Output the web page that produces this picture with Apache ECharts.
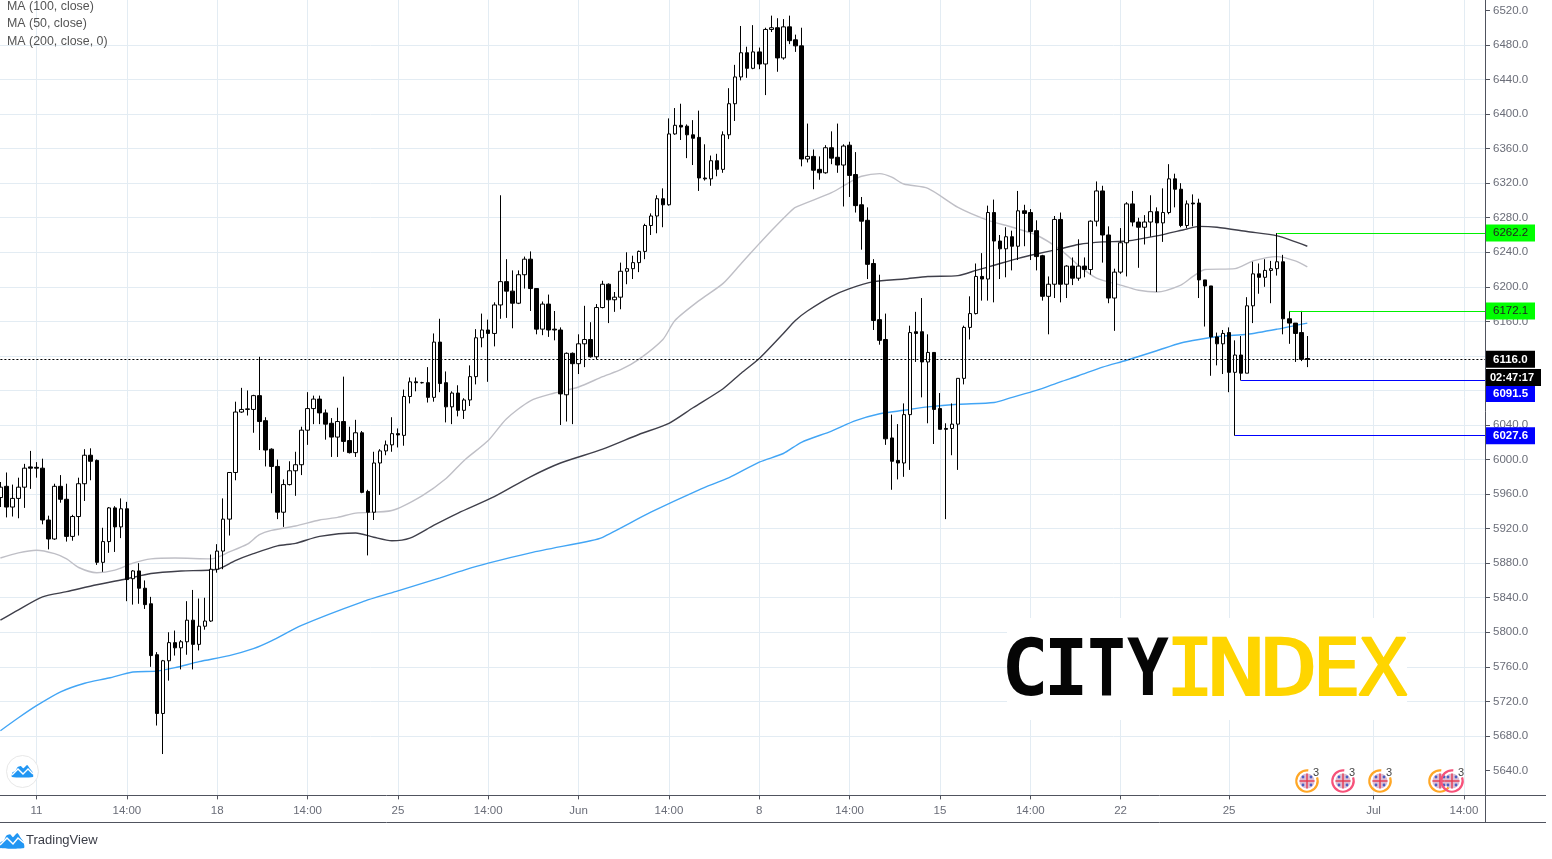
<!DOCTYPE html>
<html><head><meta charset="utf-8"><title>UK100 chart</title>
<style>html,body{margin:0;padding:0;background:#fff}#c{width:1552px;height:859px}</style>
<script src="https://cdn.jsdelivr.net/npm/echarts@6/dist/echarts.min.js"></script>
</head><body><div id="c"></div>
<script>
const tickIndices=[6,21,36,51,66,81,96,111,126,141,156,171,186,204,228,243];
const tickLabels=['11','14:00','18','14:00','25','14:00','Jun','14:00','8','14:00','15','14:00','22','25','Jul','14:00'];
const priceTicks=[5640,5680,5720,5760,5800,5840,5880,5920,5960,6000,6040,6080,6120,6160,6200,6240,6280,6320,6360,6400,6440,6480,6520];
const opens=[5956,5969,5945,5955,5968,5991.5,5991,5990,5930,5908,
5969,5954,5911,5934,5972,6005,5999,5881,5905,5944,
5922,5943,5862,5871,5851,5833,5774,5706,5767,5788,
5782,5789,5814,5786,5807,5813,5873,5894,5931,5985,
6055,6058,6058,6074,6045,6012,5992,5939,5971,5987,
5994,6034,6059,6070,6054,6042,6026,6044,6022,6008,
6031,5963,5939,5996,6010,6017,6030,6028,6073,6090,
6089,6089,6072,6136,6089,6061,6077,6057,6069,6096,
6141,6150,6146,6179,6206,6195,6181,6214,6232,6198,
6151,6180,6151,6150,6075,6123,6111,6134,6139,6119,
6176,6203,6185,6188,6218,6221,6228,6241,6271,6282,
6302,6295,6377,6387,6386,6376,6373,6326,6325,6346,
6336,6376,6412,6443,6471,6453,6472,6458,6498,6500,
6465,6501,6486,6479,6348,6351,6336,6332,6361,6350,
6341,6364,6330,6295,6277,6227,6162,6139,6025,5999,
5996,6052,6148,6148,6113,6124,6059,6036,6036,6041,
6094,6153,6169,6212,6209,6286,6253,6244,6258,6247,
6288,6286,6265,6236,6189,6203,6278,6203,6224,6210,
6224,6220,6276,6311,6260,6187,6217,6251,6296,6275,
6269,6275,6287,6274,6286,6325,6313,6271,6297,6297,
6208,6201,6142,6134,6147,6101,6121,6100,6178,6215,
6211,6219,6221,6229,6163,6158,6147,6117];
const closes=[5968,5945,5955,5968,5990,5990,5990,5930,5908,5969,
5954,5911,5934,5972,6005,5998,5881,5905,5944,5922,
5943,5861,5871,5851,5832,5773,5706,5767,5788,5782,
5789,5814,5786,5807,5813,5873,5894,5931,5985,6055,
6058,6058.7,6074,6044,6011,5992,5939,5971,5987,5994,
6034,6059,6070,6054,6041,6026,6044,6021,6008,6031,
5962,5939,5996,6010,6017,6030,6028.5,6073,6090,6089,
6089,6072,6136,6088,6061,6077,6057,6069,6096,6141,
6150,6146,6179,6206,6195,6181,6214,6232,6198,6151,
6180,6150,6150,6076,6123,6111,6134,6139,6119,6176,
6203,6185,6188,6218,6221,6228,6241,6271,6282,6302,
6295,6377,6387,6385,6376,6372,6326,6325,6346,6336,
6376,6412,6443,6471,6453,6472,6458,6498,6500,6465,
6501,6485,6479,6348,6351,6335,6332,6361,6349,6341,
6363,6329,6294,6276,6226,6161,6138,6024,5998,5996,
6052,6147,6146,6113,6124,6058,6035,6035,6041,6094,
6153,6169,6212,6209,6286,6253,6244,6258,6247,6288,
6285,6264,6235,6189,6203,6278,6203,6224,6210,6224,
6220,6276,6311,6260,6187,6217,6251,6296,6275,6269,
6275,6287,6274,6286,6325,6313,6271,6296,6296,6208,
6201,6142,6134,6146,6101,6121,6100,6178,6215,6211,
6219,6221,6229,6163,6158,6146,6116,6116];
const lows=[5945,5933,5934,5932,5944,5966,5979,5925,5896,5907,
5950,5905,5906,5912,5952,5976,5878,5870,5892,5893,
5909,5836,5832,5833,5827,5760,5692,5659,5744,5773,
5757,5774,5757,5779,5803,5812,5869,5873,5912,5976,
6054,6051,6031,6011,5992,5961,5931,5922,5970,5958,
5982,6017,6041,6041,6023,6003,6003,6009,6007,6003,
5961,5889,5930,5959,6005,6009,6014,6016,6065,6079,
6088,6066,6067,6078,6043,6041,6050,6047,6062,6087,
6130,6090,6131,6163,6164,6152,6180,6198,6172,6145,
6144,6142,6138,6040,6044,6041,6099,6107,6118,6116,
6175,6158,6171,6174,6203,6209,6217,6232,6260,6262,
6269,6294,6376,6370,6349,6341,6311,6323,6317,6328,
6332,6371,6392,6439,6442,6452,6452,6422,6495,6449,
6463,6481,6472,6339.5,6344,6313,6324,6331,6342,6332,
6293,6304,6286,6243,6209,6150,6133,6017,5965,5977,
5980,5988,6113,6072,6042,6018,6035,5931,6005,5988,
6087,6139,6168,6184,6184,6182,6209,6211,6219,6231,
6247,6231,6219,6184,6145,6187,6182,6187,6202,6207,
6211,6214,6270,6228,6181,6149,6215,6212,6270,6222,
6249,6258,6194,6252,6284,6292,6269,6268,6270,6187,
6154,6097,6109,6099,6078,6027.6,6091.5,6100,6158,6192,
6200,6181,6213,6145,6134,6113,6114,6107];
const highs=[5974,5985,5971,5979,5995,6010,5997,6001,5935,5972,
5982,5972,5936,5979,6012,6013,6000,5921,5945,5946,
5955,5951,5872,5880,5860,5841,5777,5768,5800,5802,
5791,5836,5849,5839,5840,5890,5902,5955,5985,6067,
6083,6080,6075,6119,6049,6013,6000,5977,5998,6009,
6038,6078,6074,6074,6058,6048,6060,6096,6038,6046,
6033,5965,6009,6012,6022,6049,6036,6081,6095,6095,
6090,6107,6146,6163,6102,6079,6086,6071,6109,6151,
6169,6162,6182,6306,6232,6219,6219,6235,6241,6198,
6183,6191,6172,6153,6124,6124,6145,6178,6159,6180,
6207,6204,6194,6228,6240,6236,6242,6273,6285,6306,
6314,6395,6407,6412,6388,6393,6404,6365,6352,6354,
6380,6430,6457,6502,6478,6503,6477,6500,6514,6511,
6510,6514,6492,6500,6389,6359,6351,6364,6380,6389,
6365,6368,6356,6304,6292,6232,6214,6169,6052,6041,
6065,6155,6171,6187,6145,6124,6077,6042,6065,6094,
6155,6189,6227,6239,6294,6301,6260,6269,6265,6311,
6295,6290,6277,6237,6212,6282,6286,6225,6234,6255,
6234,6277,6322,6317,6270,6221,6268,6298,6311,6280,
6283,6306,6292,6314,6342,6331,6320,6300,6307,6302,
6208,6201,6147,6150,6153,6138,6143,6188,6229,6227,
6232,6230,6262.2,6237,6172.1,6158,6172.1,6143];
const ma100Index=[0,3,6,9,11,13,16,19,22,25,29,35,38,41,43,45,49,53,56,59,65,70,74,77,81,84,88,92,96,100,103,106,110,112,116,120,123,126,128,131,132,138,141,143,146,148,150,154,159,164,168,172,176,179,182,186,189,192,196,198,200,205,208,212,215,217];
const ma100Value=[5886,5892,5895,5891,5885,5875,5869,5872,5880,5885,5886,5885,5893,5902,5913,5918,5923,5930,5933,5938,5941,5958,5978,5999,6022,6047,6068,6077,6084,6096,6104,6116,6139,6161,6184,6204,6227,6250,6265,6286,6292,6309,6321,6328,6331,6327,6319,6314,6292,6277,6269,6260,6243,6225,6210,6202,6196,6194,6202,6212,6220,6221,6230,6235,6230,6223];
const ma50Index=[0,3,7,11,16,21,25,30,36,39,42,46,49,53,59,62,65,68,72,76,82,88,93,100,106,111,115,120,123,126,130,132,134,138,141,145,150,154,159,162,165,169,172,176,179,183,187,192,197,199,202,207,212,217];
const ma50Value=[5814,5826,5841,5847,5855,5862,5868,5871,5873,5883,5891,5900,5903,5911,5915,5910,5906,5909,5924,5938,5957,5980,5996,6012,6029,6042,6060,6082,6100,6117,6146,6161,6172,6189,6198,6206,6209,6212,6213,6219,6225,6233,6238,6244,6249,6252,6253,6259,6267,6270,6269,6264,6259,6247];
const ma200Index=[0,3,6,10,14,18,22,26,29,33,38,42,45,50,60,66,73,77,81,88,98,100,108,116,121,126,130,133,138,142,146,150,154,159,165,168,172,176,179,183,187,192,196,199,203,207,212,217];
const ma200Value=[5686,5701,5715,5731,5741,5747,5754,5755,5759,5766,5773,5781,5790,5808,5835,5848,5863,5872,5880,5892,5906,5910,5939,5965,5979,5997,6007,6020,6033,6045,6053,6057,6061,6064,6066,6072,6080,6090,6097,6107,6115,6126,6135,6139,6143,6145,6151,6158];
const legendLabels=['MA (100, close)','MA (50, close)','MA (200, close, 0)'];
const lastPrice=6116.0, highLine=6262.2, midLine=6172.1, lowLine=6091.5, lowestLine=6027.6;
const countdown='02:47:17';
const eventIcons=[[1307,'#ffa726'],[1343,'#f7527a'],[1380,'#ffa726'],[1440,'#ffa726'],[1452,'#f7527a']];

const CATEGORY_COUNT=247;
const categories=new Array(CATEGORY_COUNT).fill('');
tickIndices.forEach((t,i)=>{categories[t]=tickLabels[i];});
const candles=opens.map((o,i)=>[o,closes[i],lows[i],highs[i]]);
const pairs=(a,b)=>a.map((x,i)=>[x,b[i]]);

const FONT='"Liberation Sans",Arial,sans-serif';
const LINE='#50535e', TXT='#6a6d78', GRID='#e3ecf3';

const vGrid=tickIndices.map(t=>[{xAxis:t,yAxis:6560},{xAxis:t,yAxis:5610.7}]);
function tag(v,bg,fg,bold,offset){
  return {show:true,position:'end',distance:0,formatter:v.toFixed(1),backgroundColor:bg,color:fg,
    fontFamily:FONT,fontSize:11.5,fontWeight:bold?'bold':'normal',
    width:36,height:17,lineHeight:17,padding:[0,6,0,8],align:'left',verticalAlign:'middle',offset:offset||[0,0]};
}
function level(fromIndex,v,color,type,bg,fg,bold,offset){
  const ls={color,width:1,type};
  return [{xAxis:fromIndex,yAxis:v,lineStyle:ls,label:tag(v,bg,fg,bold,offset)},{x:1485,yAxis:v,lineStyle:ls}];
}
const GREEN='#00f000';
const levelLines=[
 level(212,highLine,GREEN,'solid','#00ff00','#222',false),
 level(214,midLine,GREEN,'solid','#00ff00','#222',false),
 level(206,lowLine,'#0000ff','solid','#0000ff','#fff',true,[0,13]),
 level(205,lowestLine,'#0000ff','solid','#0000ff','#fff',true),
 level(0,lastPrice,'#000000',[2,2],'#000000','#fff',true)
];

const g=[];
const L=(x1,y1,x2,y2)=>g.push({type:'line',z:30,silent:true,shape:{x1,y1,x2,y2},style:{stroke:LINE,lineWidth:1}});
L(0,795.5,1546,795.5);L(0,822.5,1546,822.5);L(1485.5,0,1485.5,822.5);
legendLabels.forEach((t,i)=>g.push({type:'text',z:30,silent:true,style:{text:t,x:7,y:6.5+17.3*i,font:'12.4px '+FONT,fill:'#555',textVerticalAlign:'middle',verticalAlign:'middle'}}));
g.push({type:'rect',z:40,silent:true,shape:{x:1486,y:369,width:55,height:17},style:{fill:'#000'}});
g.push({type:'text',z:41,silent:true,style:{text:countdown,x:1490,y:377.8,font:'bold 11px '+FONT,fill:'#fff',verticalAlign:'middle',textVerticalAlign:'middle'}});
// logo panel, one glyph at a time: [letter, centre x, horizontal scale, bold]
g.push({type:'rect',z:20,silent:true,shape:{x:1007,y:618,width:400,height:102},style:{fill:'#fff'}});
[['C',1025,1.0,1],['I',1066,0.94,1],['T',1106.5,0.8,1],['Y',1148,0.88,1],['I',1190,1.02,0],['N',1236,1.22,0],['D',1289,1.22,0],['E',1336.5,1.02,0],['X',1383,1.02,0]].forEach(([c,x,s,b])=>{
  g.push({type:'text',z:21,silent:true,x,y:674,scaleX:s,style:{text:c,x:0,y:0,
    font:(b?'bold ':'')+'79px "DejaVu Sans Mono",monospace',fill:b?'#050505':'#ffd500',stroke:b?'#050505':'#ffd500',lineWidth:b?0:2,
    align:'center',textAlign:'center',verticalAlign:'middle',textVerticalAlign:'middle'}});
});
// TradingView marks
const cloudPts=(x,y,w,h)=>[[0,1],[0.02,0.62],[0.16,0.5],[0.26,0.18],[0.42,0.08],[0.54,0.28],[0.72,0],[0.86,0.32],[0.98,0.6],[1,1]].map(([a,b])=>[x+a*w,y+b*h]);
g.push({type:'circle',z:30,silent:true,shape:{cx:22.5,cy:771.5,r:16},style:{fill:'#fff',stroke:'#e8e8e8',lineWidth:1}});
g.push({type:'polygon',z:31,silent:true,shape:{points:cloudPts(12,765,21,12),smooth:0.2},style:{fill:'#2196f3'}});
g.push({type:'polyline',z:32,silent:true,shape:{points:[[12,775],[18,769],[23,774],[28,769],[33,774]]},style:{stroke:'#fff',lineWidth:1.4,fill:null}});
g.push({type:'polygon',z:31,silent:true,shape:{points:cloudPts(0,833,24,15),smooth:0.2},style:{fill:'#2196f3'}});
g.push({type:'polyline',z:32,silent:true,shape:{points:[[0,845],[7,838],[13,844],[18,838],[24,843]]},style:{stroke:'#fff',lineWidth:1.5,fill:null}});
g.push({type:'text',z:31,silent:true,style:{text:'TradingView',x:26,y:840.5,font:'13px '+FONT,fill:'#3a3d47',verticalAlign:'middle',textVerticalAlign:'middle'}});
// event badges
eventIcons.forEach(([cx,col],k)=>{
  const cy=781;
  g.push({type:'arc',z:30+k,silent:true,shape:{cx,cy,r:10.7,startAngle:-0.35,endAngle:-1.45,clockwise:true},style:{stroke:col,lineWidth:2.2,fill:null}});
  g.push({type:'circle',z:30+k,silent:true,shape:{cx,cy,r:7.6},style:{fill:'#dcbcd2'}});
  g.push({type:'line',z:30+k,silent:true,shape:{x1:cx-7.5,y1:cy,x2:cx+7.5,y2:cy},style:{stroke:'#e53950',lineWidth:1.4}});
  g.push({type:'line',z:30+k,silent:true,shape:{x1:cx,y1:cy-7.5,x2:cx,y2:cy+7.5},style:{stroke:'#e53950',lineWidth:1.4}});
  [[-4,-4],[4,-4],[-4,4],[4,4]].forEach(([dx,dy])=>g.push({type:'circle',z:30+k,silent:true,shape:{cx:cx+dx,cy:cy+dy,r:1.4},style:{fill:'#4a5fc1'}}));
});
[1316,1352,1389,1461].forEach(x=>g.push({type:'text',z:40,silent:true,style:{text:'3',x,y:773,font:'11px '+FONT,fill:'#444',align:'center',textAlign:'center',verticalAlign:'middle',textVerticalAlign:'middle'}}));

const maLine=(name,idx,val,color)=>({name,type:'line',data:pairs(idx,val),z:2,smooth:0.25,symbol:'none',silent:true,lineStyle:{color,width:1.4},animation:false});

const chart=echarts.init(document.getElementById('c'),null,{renderer:'canvas'});
chart.setOption({
  animation:false,backgroundColor:'#fff',
  grid:{left:-2.61,top:-24.1,width:1487.6,height:829.1,containLabel:false,outerBoundsMode:'none'},
  xAxis:{type:'category',data:categories,boundaryGap:true,offset:-9.6,
    axisLine:{show:false},
    axisTick:{show:true,alignWithLabel:true,interval:(i,v)=>v!=='',length:4,lineStyle:{color:LINE}},
    axisLabel:{interval:(i,v)=>v!=='',color:TXT,fontFamily:FONT,fontSize:11.5,margin:9,hideOverlap:false},
    splitLine:{show:false}},
  yAxis:{type:'value',position:'right',min:5600,max:6560,interval:40,scale:true,
    axisLine:{show:false},
    axisTick:{show:true,length:5,customValues:priceTicks,lineStyle:{color:LINE}},
    axisLabel:{color:TXT,fontFamily:FONT,fontSize:11.5,margin:8,customValues:priceTicks,formatter:v=>Number(v).toFixed(1)},
    splitLine:{show:true,showMinLine:false,showMaxLine:false,lineStyle:{color:GRID,width:1}}},
  graphic:{elements:g},
  series:[
    {type:'line',data:[],z:1,silent:true,symbol:'none',
     markLine:{silent:true,z:1,symbol:'none',animation:false,label:{show:false},lineStyle:{color:GRID,width:1,type:'solid'},data:vGrid}},
    maLine(legendLabels[0],ma100Index,ma100Value,'#bfbfc6'),
    maLine(legendLabels[1],ma50Index,ma50Value,'#3f3f4a'),
    maLine(legendLabels[2],ma200Index,ma200Value,'#42a5f5'),
    {type:'candlestick',data:candles,z:3,barWidth:4,silent:true,
     itemStyle:{color:'#ffffff',color0:'#000000',borderColor:'#000000',borderColor0:'#000000',borderWidth:1},
     markLine:{silent:true,z:10,symbol:'none',animation:false,data:levelLines}}
  ]
});
</script></body></html>
